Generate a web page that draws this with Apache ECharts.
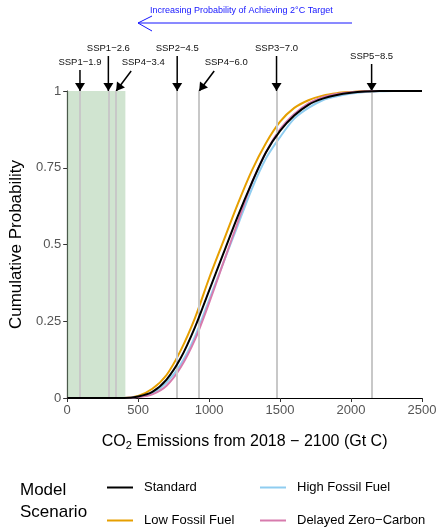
<!DOCTYPE html><html><head><meta charset="utf-8">
<script src="https://cdn.jsdelivr.net/npm/echarts@6/dist/echarts.min.js"></script>
<style>html,body{margin:0;background:#fff}#c{width:448px;height:532px}</style></head><body><div id="c"></div>
<script>
const xs=[0,200,400,500,600,700,800,900,1000,1100,1200,1300,1400,1500,1600,1700,1800,1900,2000,2100,2200,2300,2400,2500];
const standard=[0,0,0,0.005,0.02,0.06,0.13,0.23,0.35,0.47,0.59,0.70,0.80,0.87,0.92,0.955,0.975,0.987,0.994,0.998,1,1,1,1];
const lowFossil=[0,0,0,0.007,0.03,0.075,0.155,0.26,0.39,0.51,0.63,0.74,0.83,0.90,0.945,0.97,0.985,0.993,0.997,1,1,1,1,1];
const highFossil=[0,0,0,0.004,0.015,0.05,0.11,0.20,0.32,0.44,0.56,0.68,0.78,0.85,0.91,0.945,0.97,0.983,0.992,0.997,0.999,1,1,1];
const delayed=[0,0,0,0.003,0.012,0.04,0.10,0.19,0.31,0.44,0.57,0.70,0.80,0.875,0.925,0.96,0.98,0.99,0.996,0.999,1,1,1,1];
const sspNames=['SSP1−1.9','SSP1−2.6','SSP4−3.4','SSP2−4.5','SSP4−6.0','SSP3−7.0','SSP5−8.5'];
const sspValues=[90,290,345,775,930,1475,2145];
const sspDiagonal=[false,false,true,false,true,false,false];
const sspHigh=[false,true,false,true,false,true,false];
const greenBand=[0,410];
const F='Liberation Sans, Arial, sans-serif';
const chart=echarts.init(document.getElementById('c'));
const mk=(name,vals,color,z)=>({name,type:'line',smooth:0.3,symbol:'none',z,data:xs.map((x,i)=>[x,vals[i]]),lineStyle:{color,width:2},itemStyle:{color}});
chart.setOption({
 animation:false,
 grid:{left:67,right:26,top:91,bottom:134},
 xAxis:{type:'value',min:0,max:2500,interval:500,splitLine:{show:false},
  axisLine:{lineStyle:{color:'#000',width:1.2}},axisTick:{lineStyle:{color:'#333'},length:4},
  axisLabel:{color:'#555',fontSize:13,fontFamily:F,margin:6,formatter:v=>String(v)},
  name:'CO{s|2} Emissions from 2018 − 2100 (Gt C)',nameLocation:'middle',nameGap:34,
  nameTextStyle:{color:'#000',fontSize:16,fontFamily:F,rich:{s:{fontSize:11,verticalAlign:'bottom',padding:[8,0,0,0],fontFamily:F}}}},
 yAxis:{type:'value',min:0,max:1,interval:0.25,splitLine:{show:false},
  axisLine:{show:true,lineStyle:{color:'#000',width:1.2}},axisTick:{show:true,lineStyle:{color:'#333'},length:4},
  axisLabel:{color:'#555',fontSize:13,fontFamily:F,margin:6,formatter:v=>String(v)},
  name:'Cumulative Probability',nameLocation:'middle',nameGap:42,nameTextStyle:{color:'#000',fontSize:17,fontFamily:F}},
 legend:[
  {orient:'vertical',left:102,top:476,itemGap:20,itemWidth:26,itemHeight:2,icon:'rect',data:['Standard','Low Fossil Fuel'],textStyle:{fontSize:13,fontFamily:F,color:'#000',padding:[0,0,0,6]}},
  {orient:'vertical',left:255,top:476,itemGap:20,itemWidth:26,itemHeight:2,icon:'rect',data:['High Fossil Fuel','Delayed Zero−Carbon'],textStyle:{fontSize:13,fontFamily:F,color:'#000',padding:[0,0,0,6]}}
 ],
 series:[
  {type:'line',data:[],markArea:{silent:true,itemStyle:{color:'rgba(170,205,170,0.55)'},data:[[{xAxis:greenBand[0],yAxis:0},{xAxis:greenBand[1],yAxis:1}]]},
   markLine:{silent:true,symbol:'none',label:{show:false},lineStyle:{color:'#c8c8c8',width:2,type:'solid'},data:sspValues.map(v=>({xAxis:v}))}},
  mk('High Fossil Fuel',highFossil,'#8fcdf0',3),
  mk('Delayed Zero−Carbon',delayed,'#d77bad',4),
  mk('Standard',standard,'#000000',5),
  mk('Low Fossil Fuel',lowFossil,'#e69f00',2)
 ]
});
const g=[];
const ytop=chart.convertToPixel({yAxisIndex:0},1);
sspValues.forEach((v,i)=>{
 const px=chart.convertToPixel({xAxisIndex:0},v);
 const labelY=sspHigh[i]?53:i===6?61:67;
 let x1=px,y1=labelY+3,x2=px,y2=ytop;
 if(sspDiagonal[i]){x1=px+15;y1=ytop-20;}
 const ang=Math.atan2(y2-y1,x2-x1);
 g.push({type:'line',shape:{x1,y1,x2,y2},style:{stroke:'#000',lineWidth:1.5}});
 const L=8,W=5;
 g.push({type:'polygon',shape:{points:[[x2,y2],[x2-L*Math.cos(ang)+W*Math.sin(ang),y2-L*Math.sin(ang)-W*Math.cos(ang)],[x2-L*Math.cos(ang)-W*Math.sin(ang),y2-L*Math.sin(ang)+W*Math.cos(ang)]]},style:{fill:'#000'}});
 const tx=sspDiagonal[i]?px+27:px;
 g.push({type:'text',x:tx,y:labelY,style:{text:sspNames[i],fontSize:9.5,fontFamily:F,fill:'#111',align:'center',verticalAlign:'bottom'}});
});
g.push({type:'line',shape:{x1:352,y1:23,x2:138,y2:23},style:{stroke:'#1515ff',lineWidth:1}});
g.push({type:'polyline',shape:{points:[[152,16],[138,23],[152,31]]},style:{stroke:'#1515ff',lineWidth:1,fill:null}});
g.push({type:'text',x:150,y:15,style:{text:'Increasing Probability of Achieving 2°C Target',fontSize:9,fontFamily:F,fill:'#1515ff',verticalAlign:'bottom'}});
g.push({type:'text',x:20,y:479,style:{text:'Model\nScenario',fontSize:17,fontFamily:F,fill:'#000',lineHeight:22}});
chart.setOption({graphic:g});
</script></body></html>
